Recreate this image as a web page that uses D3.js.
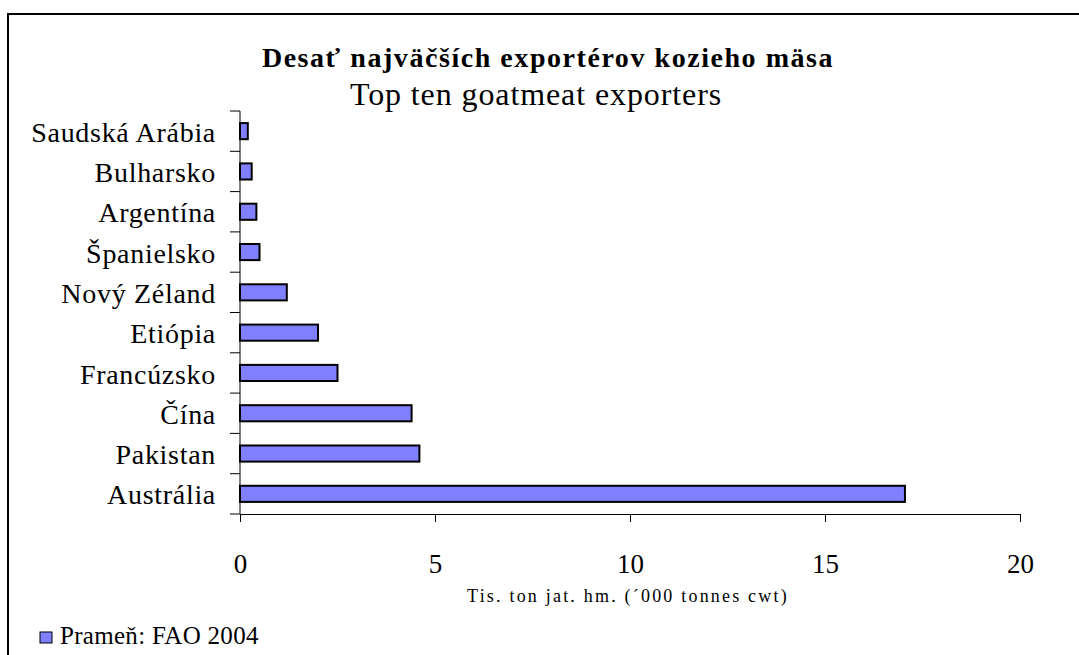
<!DOCTYPE html>
<html>
<head>
<meta charset="utf-8">
<script src="https://cdn.jsdelivr.net/npm/d3@7"></script>
<style>
  body { margin: 0; background: #fff; }
  text { font-family: "Liberation Serif", "Times New Roman", serif; fill: #000; }
</style>
</head>
<body>
<div id="chart"></div>
<script>
// data, bottom to top as in the picture
var countries = ["Austrália", "Pakistan", "Čína", "Francúzsko", "Etiópia",
                 "Nový Zéland", "Španielsko", "Argentína", "Bulharsko", "Saudská Arábia"];
var exports = [17.05, 4.6, 4.4, 2.5, 2.0, 1.2, 0.5, 0.42, 0.3, 0.2];
var xTicks = [0, 5, 10, 15, 20];

var W = 1079, H = 655;
var margin = {top: 111, left: 240, right: 59, bottom: 141};
var width = W - margin.left - margin.right;
var height = H - margin.top - margin.bottom;
var serif = "'Liberation Serif', 'Times New Roman', serif";

var svg = d3.select("#chart").append("svg")
    .attr("width", W).attr("height", H);

// frame round the whole chart
svg.append("rect")
    .attr("x", 8).attr("y", 14)
    .attr("width", W + 20).attr("height", H + 20)
    .attr("fill", "none").attr("stroke", "#000").attr("stroke-width", 2);

// titles
svg.append("text")
    .attr("x", 548).attr("y", 67)
    .attr("text-anchor", "middle")
    .style("font-size", "28px").style("font-weight", "bold")
    .style("letter-spacing", "1.55px")
    .text("Desať najväčších exportérov kozieho mäsa");
svg.append("text")
    .attr("x", 536).attr("y", 105)
    .attr("text-anchor", "middle")
    .style("font-size", "32px").style("letter-spacing", "0.9px")
    .text("Top ten goatmeat exporters");

var g = svg.append("g")
    .attr("transform", "translate(" + margin.left + "," + margin.top + ")");

var x = d3.scaleLinear().domain([0, 20]).range([0, width]);
var y = d3.scaleBand().domain(countries.slice().reverse()).range([0, height]).paddingInner(0.6).paddingOuter(0.3);

// bars
g.selectAll("rect.bar")
    .data(countries)
    .enter().append("rect")
    .attr("class", "bar")
    .attr("x", x(0))
    .attr("y", function(d) { return y(d); })
    .attr("height", y.bandwidth())
    .attr("width", function(d, i) { return x(exports[i]) - x(0); })
    .attr("fill", "#8080ff")
    .attr("stroke", "#000")
    .attr("stroke-width", 2);

// y axis: ticks between categories
var yAxis = g.append("g");
yAxis.append("line")
    .attr("x1", 0).attr("x2", 0).attr("y1", 0).attr("y2", height)
    .attr("stroke", "#000").attr("stroke-width", 1);
var step = height / countries.length;
yAxis.selectAll("line.tk")
    .data(d3.range(countries.length + 1))
    .enter().append("line")
    .attr("class", "tk")
    .attr("x1", -10).attr("x2", 0)
    .attr("y1", function(d) { return d * step; })
    .attr("y2", function(d) { return d * step; })
    .attr("stroke", "#000");
yAxis.selectAll("text")
    .data(countries)
    .enter().append("text")
    .attr("x", -24)
    .attr("y", function(d) { return y(d) + y.bandwidth() / 2; })
    .attr("dy", "0.38em")
    .attr("text-anchor", "end")
    .style("font-size", "28px").style("letter-spacing", "0.7px")
    .text(function(d) { return d; });

// x axis
var xAxis = g.append("g").attr("transform", "translate(0," + height + ")")
    .call(d3.axisBottom(x).tickValues(xTicks).tickSize(8).tickSizeOuter(0));
xAxis.attr("font-family", serif);
xAxis.select(".domain").attr("stroke", "#000");
xAxis.selectAll(".tick line").attr("stroke", "#000");
xAxis.selectAll(".tick text")
    .attr("y", 59).attr("dy", 0)
    .style("font-family", serif)
    .style("font-size", "27px");

// x axis title
svg.append("text")
    .attr("x", 628).attr("y", 602)
    .attr("text-anchor", "middle")
    .style("font-size", "18px").style("letter-spacing", "2.2px")
    .text("Tis. ton jat. hm. (´000 tonnes cwt)");

// legend
svg.append("rect")
    .attr("x", 40).attr("y", 632).attr("width", 12).attr("height", 11)
    .attr("fill", "#8080ff").attr("stroke", "#000").attr("stroke-width", 1);
svg.append("text")
    .attr("x", 60).attr("y", 644)
    .style("font-size", "25px").style("letter-spacing", "0.3px")
    .text("Prameň: FAO 2004");
</script>
</body>
</html>
